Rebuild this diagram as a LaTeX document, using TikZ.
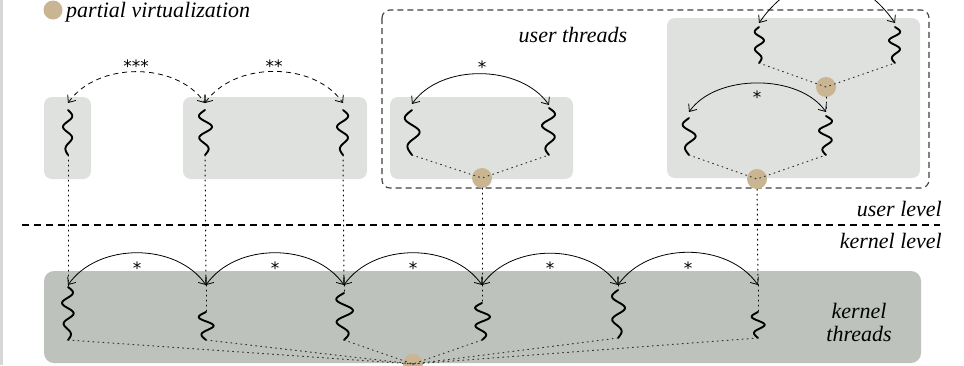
\documentclass[tikz,border=0pt]{standalone}
\usepackage{fontspec}
\setmainfont{Liberation Serif}
\newfontfamily\lblfont{Liberation Serif}
\newfontfamily\starfont{DejaVu Sans}
\usetikzlibrary{arrows.meta}

\definecolor{pale}{HTML}{DEE1DE}
\definecolor{slate}{HTML}{BEC2BC}
\definecolor{tan}{HTML}{C9B592}
\definecolor{edgegray}{HTML}{D6D6D6}

\tikzset{
  x=1pt, y=1pt,
  thread/.style={line width=1.9pt, line cap=round, line join=round},
  barb/.tip={Straight Barb[length=6pt,width=10pt]},
  hop/.style={barb-barb, line width=0.8pt},
  hopdash/.style={hop, dash pattern=on 5pt off 4pt},
  link/.style={line width=1pt, dash pattern=on 1pt off 4pt, line cap=round},
  fan/.style={link, black!80},
  pv/.style={circle, fill=tan, inner sep=0pt, minimum size=20pt},
  lbl/.style={font=\lblfont\itshape\fontsize{22}{24}\selectfont, inner sep=0pt},
  starlbl/.style={font=\starfont\fontsize{17}{17}\selectfont, inner sep=0pt, anchor=base},
  palebox/.style={fill=pale, rounded corners=8pt},
}

% wavy thread: x, top, bottom, amplitude, half-waves
\newcommand\squiggle[5]{%
  \draw[thread] plot[smooth, domain=0:1, samples=50, variable=\t]
    ({#1+#4*sin(180*#5*\t)*(0.7+0.3*sin(250*\t))}, {-(#2)-(#3-#2)*\t});}

\begin{document}
\begin{tikzpicture}
\clip (0,0) rectangle (964,-365);
\fill[white] (0,0) rectangle (964,-365);
\fill[edgegray] (0,0) rectangle (3,-365);

% legend
\node[pv, minimum size=19pt] (legend) at (53,-10) {};
\node[lbl, anchor=base west] (legendtext) at (66,-17) {partial virtualization};

% user-level process boxes
\fill[palebox] (44,-97) rectangle (91,-179);
\fill[palebox] (183,-97) rectangle (367,-179);
\fill[palebox] (390,-97) rectangle (573,-179);
\fill[palebox] (667,-18) rectangle (920,-178);
\draw[line width=1.1pt, black!75, dash pattern=on 6pt off 4pt, rounded corners=8pt]
  (382,-10) rectangle (929,-188);
\node[lbl, anchor=base] (ut) at (573,-42) {user threads};

% kernel box
\fill[slate, rounded corners=10pt] (44,-271) rectangle (921,-363);
\node[lbl, anchor=base] (kt1) at (859,-318) {kernel};
\node[lbl, anchor=base] (kt2) at (859,-341) {threads};

% level separator
\draw[line width=1.2pt, dash pattern=on 7pt off 5pt] (22,-225) -- (940,-225);
\node[lbl, anchor=base east] (ul) at (942,-216) {user level};
\node[lbl, anchor=base east] (kl) at (942,-248) {kernel level};

% ---------------- user threads ----------------
\coordinate (u1) at (68,-103);   \coordinate (u1b) at (68,-155);
\coordinate (u2) at (205,-103);  \coordinate (u2b) at (205,-155);
\coordinate (u3) at (343,-103);  \coordinate (u3b) at (343,-155);
\squiggle{68}{110}{155}{5}{4}
\squiggle{205}{110}{155}{-7}{4}
\squiggle{343}{110}{155}{6}{4}

\coordinate (cl) at (412,-104);  \coordinate (clb) at (412,-155);
\coordinate (cr) at (549,-105);  \coordinate (crb) at (549,-155);
\squiggle{412}{110}{155}{-8}{3}
\squiggle{549}{108}{155}{7}{4}

\coordinate (dul) at (759,-23);  \coordinate (dulb) at (759,-63);
\coordinate (dur) at (895,-23);  \coordinate (durb) at (895,-63);
\squiggle{759}{27}{63}{-5}{4}
\squiggle{895}{27}{63}{6}{4}

\coordinate (dll) at (689,-112); \coordinate (dllb) at (689,-155);
\coordinate (dlr) at (826,-112); \coordinate (dlrb) at (826,-155);
\squiggle{689}{118}{155}{-7}{3}
\squiggle{826}{116}{155}{7}{4}

\node[pv] (pc) at (482,-178) {};
\node[pv] (pd1) at (826,-87) {};
\node[pv] (pd2) at (757,-179) {};

% ---------------- kernel threads ----------------
\coordinate (k1) at (68,-285);  \coordinate (k1w) at (68,-287);  \coordinate (k1b) at (68,-340);
\coordinate (k2) at (206,-285); \coordinate (k2w) at (206,-312); \coordinate (k2b) at (206,-340);
\coordinate (k3) at (344,-285); \coordinate (k3w) at (344,-293); \coordinate (k3b) at (344,-340);
\coordinate (k4) at (482,-285); \coordinate (k4w) at (482,-303); \coordinate (k4b) at (482,-340);
\coordinate (k5) at (618,-285); \coordinate (k5w) at (618,-290); \coordinate (k5b) at (618,-338);
\coordinate (k6) at (758,-285); \coordinate (k6w) at (758,-312); \coordinate (k6b) at (758,-338);
\squiggle{68}{287}{340}{6}{5}
\squiggle{206}{312}{340}{-8}{3}
\squiggle{344}{293}{340}{-9}{4}
\squiggle{482}{303}{340}{-8}{4}
\squiggle{618}{290}{338}{-7}{4}
\squiggle{758}{312}{338}{-7}{3}
\node[pv] (pk) at (413,-364) {};

% ---------------- dotted mappings ----------------
\draw[link] (u1b) -- (k1);
\draw[link] (u2b) -- (k2);
\draw[link] (u3b) -- (k3);
\draw[link] (pc) -- (k4);
\draw[link] (pd2) -- (k6);
\draw[link] (pd1) -- (dlr);
\foreach \k in {1,...,6} \draw[link] (k\k) -- (k\k w);

\draw[fan] (clb) -- (pc.center) -- (crb);
\draw[fan] (dulb) -- (pd1.center) -- (durb);
\draw[fan] (dllb) -- (pd2.center) -- (dlrb);
\foreach \k in {1,...,6} \draw[fan] (k\k b) -- (pk.center);

% ---------------- switches ----------------
\draw[hopdash] (u1) to[out=55,in=125,looseness=0.95] (u2);
\draw[hopdash] (u2) to[out=55,in=125,looseness=0.95] (u3);
\node[starlbl] (s1) at (136,-72) {***};
\node[starlbl] (s2) at (274,-72) {**};

\draw[hop] (cl) to[out=55,in=125,looseness=0.93] (cr);
\node[starlbl] (s3) at (482,-73) {*};

\draw[hop] (dul) to[out=55,in=125,looseness=1.3] (dur);
\draw[hop] (dll) to[out=55,in=125,looseness=0.88] (dlr);
\node[starlbl] (s4) at (757,-103) {*};

\draw[hop] (k1) to[out=55,in=125,looseness=0.97] (k2);
\draw[hop] (k2) to[out=55,in=125,looseness=0.97] (k3);
\draw[hop] (k3) to[out=55,in=125,looseness=0.97] (k4);
\draw[hop] (k4) to[out=55,in=125,looseness=0.97] (k5);
\draw[hop] (k5) to[out=55,in=125,looseness=0.97] (k6);
\foreach \xs/\nm in {137/a,275/b,413/c,550/d,688/e}
  \node[starlbl] (ks\nm) at (\xs,-274) {*};
\end{tikzpicture}
\end{document}
